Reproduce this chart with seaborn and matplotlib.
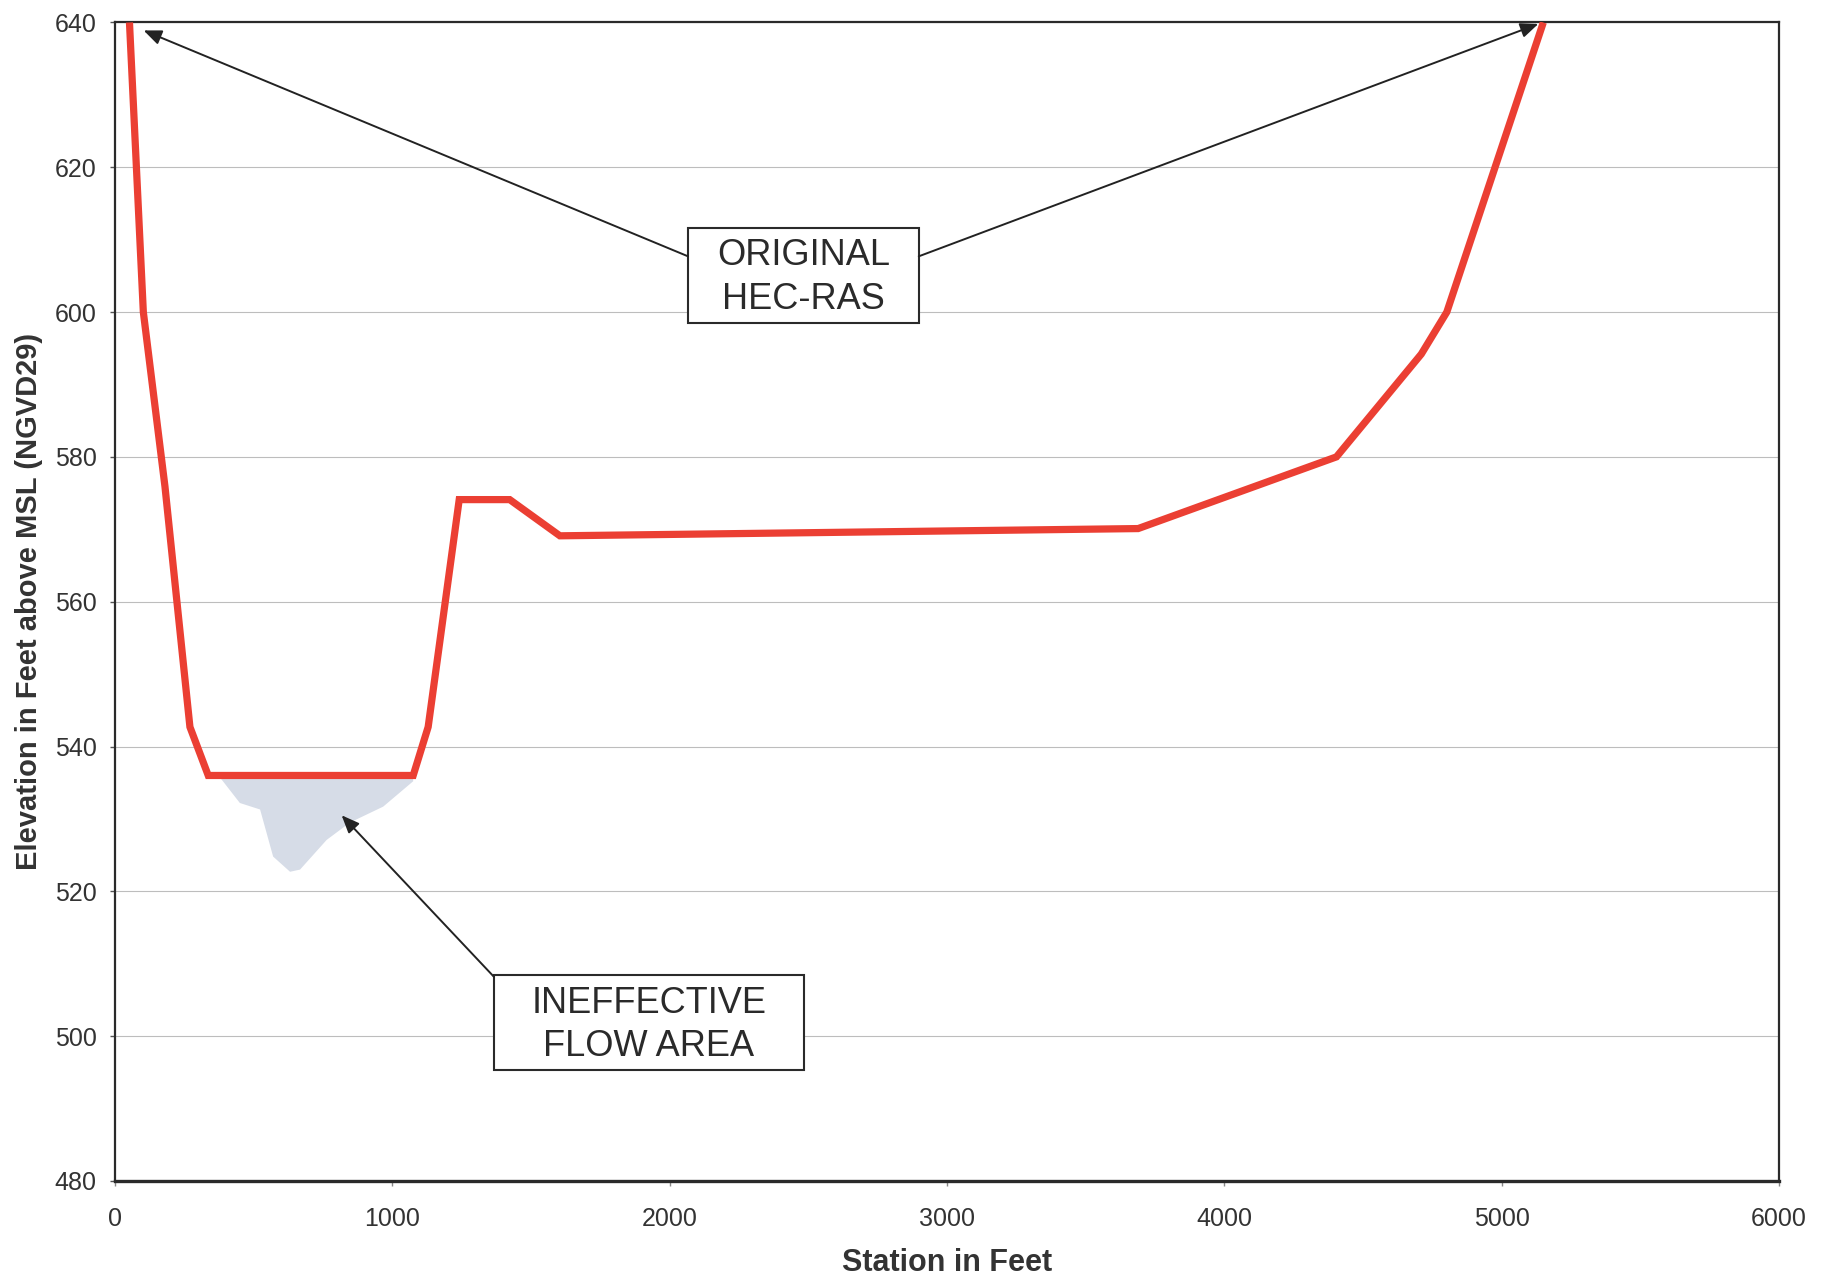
import matplotlib
matplotlib.use("Agg")
import matplotlib.pyplot as plt
import seaborn as sns
import pandas as pd
from matplotlib.patches import Rectangle

# ---- data ----
station = [52, 102, 180, 270, 336, 1075, 1129, 1241, 1423, 1604, 3689, 4404, 4710, 4802, 5150]
elevation = [640, 600, 575.9, 542.7, 536, 536, 542.7, 574.1, 574.1, 569.1, 570.1, 580, 594.2, 600, 640]

ineff_x = [370, 385, 450, 523, 570, 631, 667, 763, 847, 967, 1075, 1075]
ineff_y = [536, 535.4, 532.2, 531.3, 524.8, 522.7, 523, 527.1, 529.5, 531.7, 535.2, 536]

x_ticks = [0, 1000, 2000, 3000, 4000, 5000, 6000]
y_ticks = [480, 500, 520, 540, 560, 580, 600, 620, 640]

label_orig = "ORIGINAL\nHEC-RAS"
label_ineff = "INEFFECTIVE\nFLOW AREA"
orig_box = (2066, 598.5, 2898, 611.6)       # x0, y0, x1, y1
ineff_box = (1366, 495.3, 2483, 508.4)
orig_arrows = [((103, 638.9), (2066, 607.7)), ((5132, 639.8), (2898, 607.7))]
ineff_arrow = ((817, 530.5), (1366, 508.2))

# ---- style ----
sns.set_theme(style="white")
plt.rcParams["font.family"] = ["Liberation Sans", "DejaVu Sans"]

fig = plt.figure(figsize=(18.32, 12.76), dpi=100)
ax = fig.add_axes([0.0628, 0.0745, 0.9711 - 0.0628, 0.9824 - 0.0745])

df = pd.DataFrame({"Station": station, "Elevation": elevation})

# ineffective flow area
ax.fill(ineff_x, ineff_y, color="#d6dce7", lw=0, zorder=2)

sns.lineplot(data=df, x="Station", y="Elevation", sort=False, estimator=None,
             color="#eb3f33", lw=5.2, ax=ax, zorder=4,
             solid_joinstyle="miter", solid_capstyle="butt")

ax.set_xlim(0, 6000)
ax.set_ylim(480, 640)
ax.set_xticks(x_ticks)
ax.set_yticks(y_ticks)
ax.yaxis.grid(True, color="#bdbdbd", lw=0.8, zorder=0)
ax.xaxis.grid(False)
ax.set_axisbelow(True)

for side in ["left", "right", "top"]:
    ax.spines[side].set_color("#2a2a2a")
    ax.spines[side].set_linewidth(1.6)
ax.spines["bottom"].set_color("#2a2a2a")
ax.spines["bottom"].set_linewidth(2.4)

ax.tick_params(axis="y", which="major", left=True, length=3.3, width=1, color="#555555",
               pad=10, labelsize=18, labelcolor="#333333")
ax.tick_params(axis="x", which="major", bottom=True, length=3.5, width=1, color="#888888",
               pad=15, labelsize=18, labelcolor="#333333")

ax.set_xlabel("Station in Feet", fontsize=22, fontweight="bold", color="#333333")
ax.set_ylabel("Elevation in Feet above MSL (NGVD29)", fontsize=21, fontweight="bold", color="#333333")
ax.xaxis.label.set_va("center")
ax.yaxis.label.set_va("center")
ax.xaxis.set_label_coords(0.5, -0.0705)
ax.yaxis.set_label_coords(-0.0515, 0.5)

# annotation boxes
for (x0, y0, x1, y1), txt in [(orig_box, label_orig), (ineff_box, label_ineff)]:
    ax.add_patch(Rectangle((x0, y0), x1 - x0, y1 - y0, facecolor="white",
                           edgecolor="#2a2a2a", lw=1.5, zorder=5))
    ax.text((x0 + x1) / 2, (y0 + y1) / 2 - 0.3, txt, ha="center", va="center",
            multialignment="center", fontsize=26, color="#2a2a2a", zorder=6,
            linespacing=1.32)

arrow_kw = dict(arrowstyle="-|>,head_length=0.6,head_width=0.25", color="#222222",
                lw=1.4, shrinkA=0, shrinkB=0, mutation_scale=18)
for head, tail in orig_arrows + [ineff_arrow]:
    ax.annotate("", xy=head, xytext=tail, arrowprops=arrow_kw, zorder=5,
                annotation_clip=False)

fig.savefig("out.png", dpi=100)
